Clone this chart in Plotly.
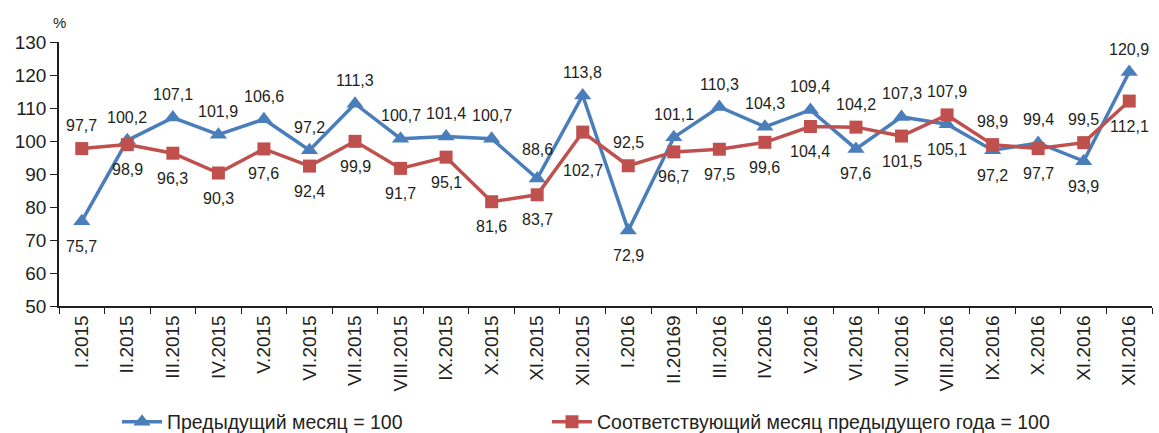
import plotly.graph_objects as go

categories = ["I.2015", "II.2015", "III.2015", "IV.2015", "V.2015", "VI.2015", "VII.2015",
              "VIII.2015", "IX.2015", "X.2015", "XI.2015", "XII.2015", "I.2016", "II.20169",
              "III.2016", "IV.2016", "V.2016", "VI.2016", "VII.2016", "VIII.2016", "IX.2016",
              "X.2016", "XI.2016", "XII.2016"]

prev_month = [75.7, 100.2, 107.1, 101.9, 106.6, 97.2, 111.3, 100.7, 101.4, 100.7, 88.6, 113.8,
              72.9, 101.1, 110.3, 104.3, 109.4, 97.6, 107.3, 105.1, 97.2, 99.4, 93.9, 120.9]
prev_year = [97.7, 98.9, 96.3, 90.3, 97.6, 92.4, 99.9, 91.7, 95.1, 81.6, 83.7, 102.7,
             92.5, 96.7, 97.5, 99.6, 104.4, 104.2, 101.5, 107.9, 98.9, 97.7, 99.5, 112.1]

# label placement: +1 above, -1 below
blue_pos = [-1, 1, 1, 1, 1, 1, 1, 1, 1, 1, 1, 1, -1, 1, 1, 1, 1, -1, 1, -1, -1, 1, -1, 1]
red_pos = [1, -1, -1, -1, -1, -1, -1, -1, -1, -1, -1, -1, 1, -1, -1, -1, -1, 1, -1, 1, 1, -1, 1, -1]

series_names = ["Предыдущий месяц = 100", "Соответствующий месяц предыдущего года = 100"]
BLUE = "#4A7EBB"
RED = "#C0504D"
TXT = "#231F20"
FONT = "Arial, Liberation Sans, sans-serif"

def fmt(v):
    return f"{v:.1f}".replace(".", ",")

fig = go.Figure()
fig.add_trace(go.Scatter(x=categories, y=prev_month, mode="lines+markers", name=series_names[0],
                         line=dict(color=BLUE, width=3.5), legend="legend",
                         marker=dict(symbol="triangle-up", size=15, color=BLUE)))
fig.add_trace(go.Scatter(x=categories, y=prev_year, mode="lines+markers", name=series_names[1],
                         line=dict(color=RED, width=3.5), legend="legend2",
                         marker=dict(symbol="square", size=13, color=RED)))

annotations = []
for vals, pos, is_red in ((prev_month, blue_pos, False), (prev_year, red_pos, True)):
    for c, v, p in zip(categories, vals, pos):
        shift = 23 if p > 0 else -25
        if is_red and c == "XII.2015":
            shift = -38
        if (not is_red) and c == "XI.2015":
            shift = 29
        annotations.append(dict(x=c, y=v, text=fmt(v), showarrow=False, yshift=shift,
                                font=dict(size=16, color=TXT, family=FONT)))
annotations.append(dict(x=0, y=1, xref="paper", yref="paper", text="%", showarrow=False,
                        xanchor="center", yanchor="bottom", yshift=9,
                        font=dict(size=15, color=TXT, family=FONT)))

legend_common = dict(orientation="h", xanchor="left", xref="container", yref="container",
                     y=0.0254, yanchor="middle", itemwidth=40,
                     font=dict(size=19.5, color=TXT, family=FONT), bgcolor="rgba(0,0,0,0)")

fig.update_layout(
    width=1159, height=433,
    margin=dict(l=59, r=7, t=42, b=127, autoexpand=False),
    plot_bgcolor="white", paper_bgcolor="white",
    font=dict(family=FONT, color=TXT),
    annotations=annotations,
    showlegend=True,
    legend=dict(x=117 / 1159, **legend_common),
    legend2=dict(x=547 / 1159, **legend_common),
    xaxis=dict(type="category", showline=True, linecolor=TXT, linewidth=1.5,
               ticks="outside", tickson="boundaries", ticklen=6, tickcolor=TXT,
               tickangle=-90, tickfont=dict(size=19, family=FONT, color=TXT), showgrid=False,
               range=[-0.5, 23.5], automargin=False),
    yaxis=dict(range=[50, 130], dtick=10, showline=True, linecolor=TXT, linewidth=1.5,
               ticks="outside", ticklen=7, tickcolor=TXT, showgrid=False,
               zeroline=False, tickfont=dict(size=19, family=FONT, color=TXT),
               automargin=False),
)

fig.write_html("out.html", config={"displayModeBar": False},
               post_script="document.body.style.margin='0';")
